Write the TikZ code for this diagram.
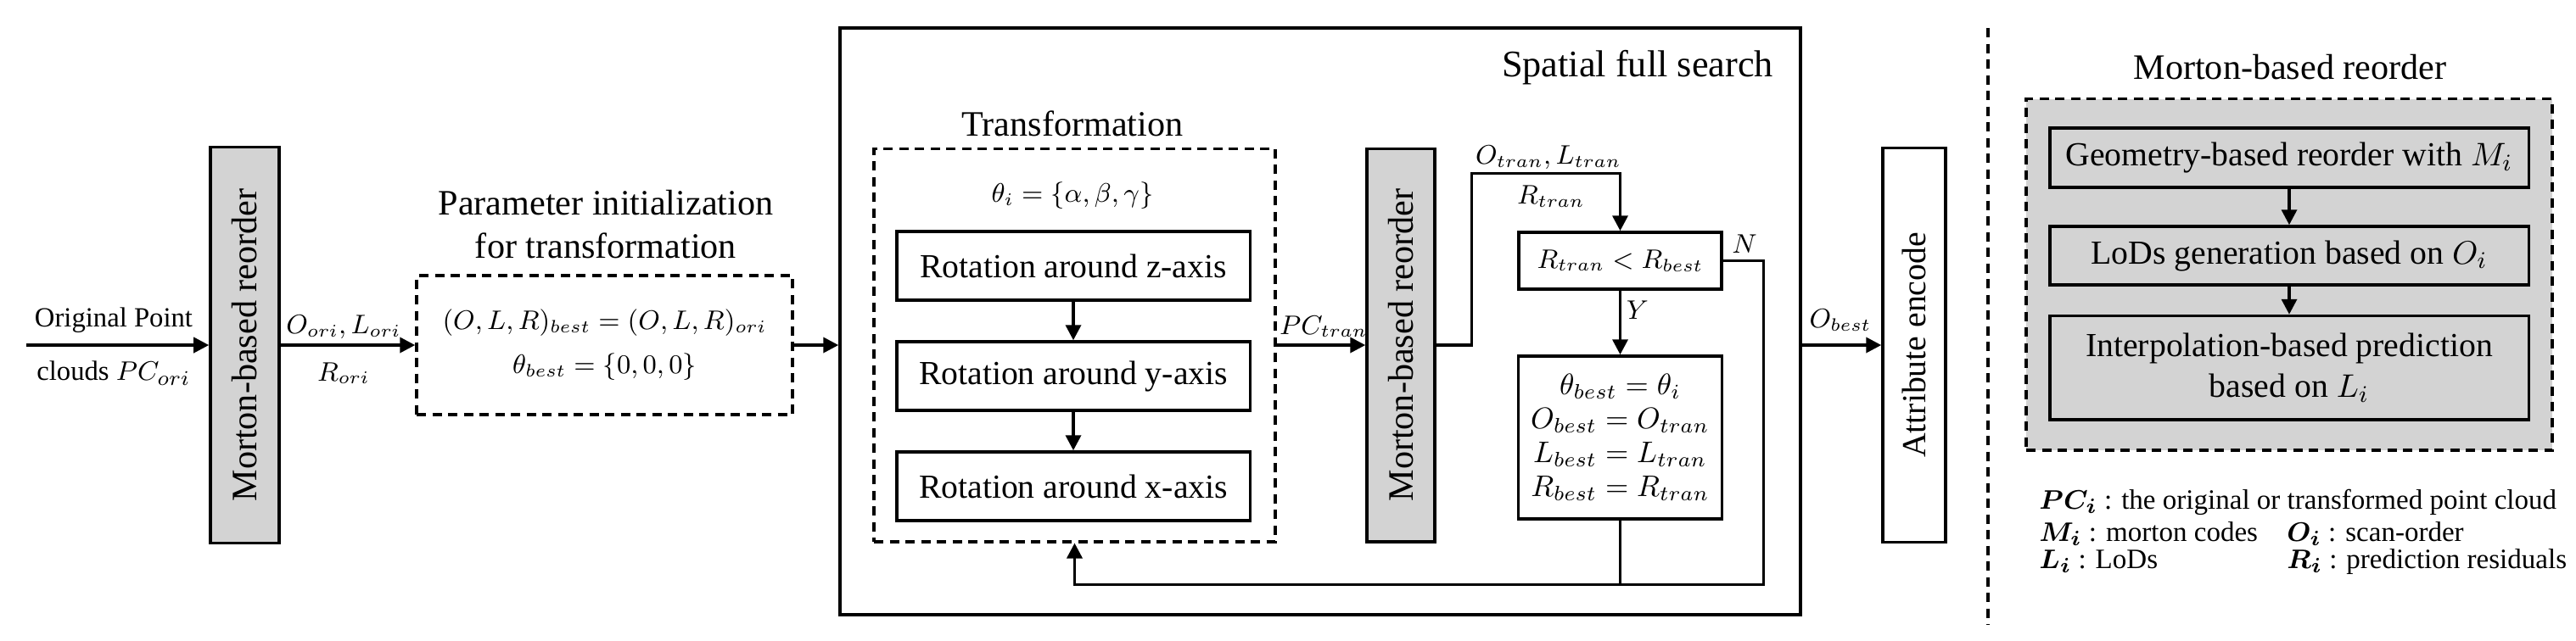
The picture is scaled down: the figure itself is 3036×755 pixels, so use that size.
\documentclass[tikz,border=0pt]{standalone}
\usepackage{amsmath}
\usepackage{fontspec}
\setmainfont{Liberation Serif}
\usetikzlibrary{arrows.meta}
\definecolor{boxgray}{RGB}{211,211,211}
\tikzset{
	every box/.style={draw, line width=1pt, inner sep=0pt, align=center, font=\fontsize{11.3}{13.7}\selectfont},
	gray box/.style={every box, fill=boxgray},
	dash box/.style={every box, dash pattern=on 1.1mm off 0.75mm},
	head text/.style={align=center, font=\fontsize{12}{14.5}\selectfont},
	arrow text/.style={font=\fontsize{9}{11}\selectfont},
	small text/.style={font=\fontsize{9.3}{11}\selectfont},
	legend text/.style={anchor=base west, font=\fontsize{9.4}{11}\selectfont},
	link/.style={->, line width=1pt},
}
\begin{document}
\begin{tikzpicture}[x=0.1mm, y=-0.1mm, >={Triangle[length=1.8mm,width=1.8mm]}]
\useasboundingbox (0,0) rectangle (3036,755);

% search frame
\node [every box, minimum width=113.2mm, minimum height=69.2mm] (search) at (1556,379) {};
\node [head text, font=\fontsize{12.6}{15}\selectfont] (search-title) at (1930,80) {Spatial full search};

% input and first reorder
\coordinate (input) at (31,407);
\node [gray box, minimum width=8.1mm, minimum height=46.7mm, font=\fontsize{12}{14}\selectfont] (morton1) at (288.5,407) {\rotatebox{90}{Morton-based reorder}};
\node [small text] (in-top) at (134,378) {Original Point};
\node [small text] (in-bot) at (134,440) {clouds $PC_{ori}$};
\draw [link] (input) -- (morton1);

% parameter initialization
\node [head text] (param-title) at (714,265) {Parameter initialization\\for transformation};
\node [dash box, minimum width=44.3mm, minimum height=16.4mm, font=\fontsize{8.9}{14.8}\selectfont] (param) at (712.5,407) {$(O,L,R)_{best}=(O,L,R)_{ori}$\\$\theta_{best}=\{0,0,0\}$};
\node [arrow text] (ori-top) at (405,386) {$O_{ori}, L_{ori}$};
\node [arrow text] (ori-bot) at (405,440) {$R_{ori}$};
\draw [link] (morton1) -- (param);
\draw [link] (param.east) -- (param.east -| search.west);

% transformation
\node [head text] (trans-title) at (1264,146) {Transformation};
\node [dash box, minimum width=47.3mm, minimum height=46.35mm] (trans) at (1266.5,407) {};
\node [arrow text] (theta) at (1264,231) {$\theta_i=\{\alpha,\beta,\gamma\}$};
\foreach \a [count=\y] in {z,y,x}
	\node [every box, minimum width=41.65mm, minimum height=8.1mm] (rot-\a) at (1265,183.5+\y*130) {Rotation around \a-axis};
\foreach \a/\b in {z/y,y/x}
	\draw [link] (rot-\a) -- (rot-\b);

% second reorder
\node [gray box, minimum width=8mm, minimum height=46.35mm, font=\fontsize{12}{14}\selectfont] (morton2) at (1651,407) {\rotatebox{90}{Morton-based reorder}};
\node [arrow text] (pc-tran) at (1560,385) {$PC_{tran}$};
\draw [link] (trans) -- (morton2);

% decision
\coordinate (up-corner) at (1734.5,204.5);
\coordinate (n-corner) at (2078.6,689.5);
\node [every box, minimum width=23.9mm, minimum height=6.7mm, font=\fontsize{9.1}{11}\selectfont] (check) at (1909.5,307.5) {$R_{tran}<R_{best}$};
\node [every box, minimum width=24mm, minimum height=19.2mm, font=\fontsize{9.6}{11.4}\selectfont] (update) at (1909.5,516) {$\theta_{best}=\theta_i$\\$O_{best}=O_{tran}$\\$L_{best}=L_{tran}$\\$R_{best}=R_{tran}$};
\node [arrow text] (tran-top) at (1825,186) {$O_{tran}, L_{tran}$};
\node [arrow text] (tran-bot) at (1828,231.5) {$R_{tran}$};
\node [arrow text] (yes) at (1930,366) {$Y$};
\node [arrow text] (no) at (2056,288) {$N$};
\draw [link] (morton2.east) -| (up-corner) -| (check.north);
\draw [link] (check) -- (update);
\draw [link] (check.east) -| (n-corner) -| (trans.south);
\draw [line width=1pt] (update.south) -- (update.south |- n-corner);

% attribute encode
\node [every box, minimum width=7.4mm, minimum height=46.5mm] (attr) at (2256,407) {\rotatebox{90}{Attribute encode}};
\node [arrow text] (o-best) at (2169,378) {$O_{best}$};
\draw [link] (attr.west -| search.east) -- (attr.west);

% separator
\draw [line width=1pt, dash pattern=on 1.1mm off 0.75mm] (2343,33) -- (2343,737);

% morton-based reorder detail
\node [head text] (detail-title) at (2699,79) {Morton-based reorder};
\node [gray box, dash pattern=on 1.1mm off 0.75mm, minimum width=62mm, minimum height=41.45mm] (detail) at (2698,323.75) {};
\node [gray box, minimum width=56.45mm, minimum height=7mm] (geo) at (2698,186) {Geometry-based reorder with $M_i$};
\node [gray box, minimum width=56.45mm, minimum height=6.9mm] (lod) at (2698,301.5) {LoDs generation based on $O_i$};
\node [gray box, minimum width=56.45mm, minimum height=12.25mm] (pred) at (2698,433.75) {Interpolation-based prediction\\based on $L_i$};
\draw [link] (geo) -- (lod);
\draw [link] (lod) -- (pred);

% legend
\node [legend text] (leg-pc) at (2391,600) {$\boldsymbol{PC_i}$ : the original or transformed point cloud};
\node [legend text] (leg-m) at (2391,638) {$\boldsymbol{M_i}$ : morton codes};
\node [legend text] (leg-o) at (2683,638) {$\boldsymbol{O_i}$ : scan-order};
\node [legend text] (leg-l) at (2391,670) {$\boldsymbol{L_i}$ : LoDs};
\node [legend text] (leg-r) at (2683,670) {$\boldsymbol{R_i}$ : prediction residuals};

\end{tikzpicture}
\end{document}
